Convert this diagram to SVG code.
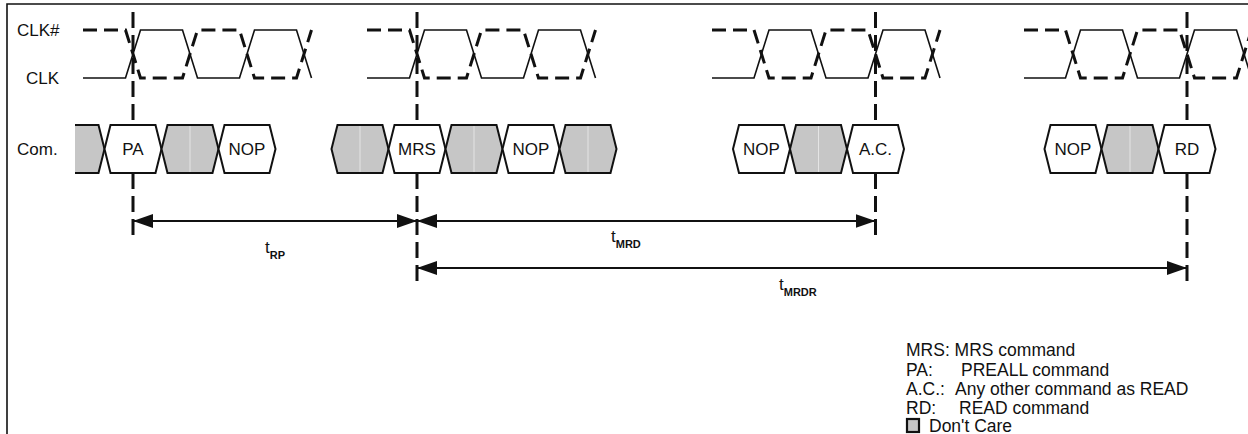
<svg xmlns="http://www.w3.org/2000/svg" width="1248" height="434" viewBox="0 0 1248 434">
<style>
text{font-family:"Liberation Sans",Arial,sans-serif;font-size:17px;fill:#111}
.mid{text-anchor:middle}
.sub{font-size:11px;font-weight:bold}
.lg{font-size:17.5px}
.clk{fill:none;stroke:#111;stroke-width:1.6}
.clkn{fill:none;stroke:#111;stroke-width:3;stroke-dasharray:14 7}
.vl{fill:none;stroke:#111;stroke-width:3;stroke-dasharray:16 7}
.cell{fill:#fff;stroke:#111;stroke-width:2;stroke-linejoin:miter}
.dc{fill:#c6c6c6;stroke:#111;stroke-width:2}
.seam{stroke:#e4e4e4;stroke-width:1}
.arr{stroke:#111;stroke-width:2;fill:none;marker-start:url(#ah);marker-end:url(#ah)}
.frame{stroke:#111;stroke-width:1.6;fill:none}
</style>
<defs>
<marker id="ah" viewBox="0 0 20 14" refX="20" refY="7" markerWidth="20" markerHeight="14" markerUnits="userSpaceOnUse" orient="auto-start-reverse"><path d="M0,0 L20,7 L0,14 z" fill="#111"/></marker>
<polygon id="hex" points="-22.5,-24 22.5,-24 28.5,0 22.5,24 -22.5,24 -28.5,0"/>
</defs>
<path class="frame" d="M7,434 V4 H1248"/>
<g id="labels">
<text x="17" y="36">CLK#</text>
<text x="26" y="84">CLK</text>
<text x="17" y="155">Com.</text>
</g>
<g id="markers-vertical">
<line class="vl" x1="133" y1="12" x2="133" y2="238"/>
<line class="vl" x1="417" y1="12" x2="417" y2="287"/>
<line class="vl" x1="875.5" y1="12" x2="875.5" y2="238"/>
<line class="vl" x1="1187" y1="12" x2="1187" y2="287"/>
</g>
<g id="clock1">
<path class="clk" d="M83,78 L125.5,78 L140.5,30 L182.5,30 L197.5,78 L239.5,78 L254.5,30 L296.5,30 L311.5,78"/>
<path class="clkn" d="M83,30 L125.5,30 L140.5,78 L182.5,78 L197.5,30 L239.5,30 L254.5,78 L296.5,78 L311.5,30"/>
</g>
<g id="clock2">
<path class="clk" d="M367,78 L409.5,78 L424.5,30 L466.5,30 L481.5,78 L523.5,78 L538.5,30 L580.5,30 L595.5,78"/>
<path class="clkn" d="M367,30 L409.5,30 L424.5,78 L466.5,78 L481.5,30 L523.5,30 L538.5,78 L580.5,78 L595.5,30"/>
</g>
<g id="clock3">
<path class="clk" d="M712,78 L754,78 L769,30 L811,30 L826,78 L868,78 L883,30 L925,30 L940,78"/>
<path class="clkn" d="M712,30 L754,30 L769,78 L811,78 L826,30 L868,30 L883,78 L925,78 L940,30"/>
</g>
<g id="clock4">
<path class="clk" d="M1024,78 L1065.5,78 L1080.5,30 L1122.5,30 L1137.5,78 L1179.5,78 L1194.5,30 L1236.5,30 L1251.5,78"/>
<path class="clkn" d="M1024,30 L1065.5,30 L1080.5,78 L1122.5,78 L1137.5,30 L1179.5,30 L1194.5,78 L1236.5,78 L1251.5,30"/>
</g>
<g id="bus1">
<polygon points="75,125 98.5,125 104.5,149 98.5,173 75,173" fill="#c6c6c6"/>
<path d="M75,125 L98.5,125 L104.5,149 L98.5,173 L75,173" fill="none" stroke="#111" stroke-width="2"/>
<g id="cmd-PA"><use href="#hex" class="cell" x="133" y="149"/><text class="mid" x="133" y="155">PA</text></g>
<g id="dc1"><use href="#hex" class="dc" x="190" y="149"/><line class="seam" x1="190" y1="126" x2="190" y2="172"/></g>
<g id="cmd-NOP1"><use href="#hex" class="cell" x="247" y="149"/><text class="mid" x="247" y="155">NOP</text></g>
</g>
<g id="bus2">
<g id="dc2"><use href="#hex" class="dc" x="360" y="149"/><line class="seam" x1="360" y1="126" x2="360" y2="172"/></g>
<g id="cmd-MRS"><use href="#hex" class="cell" x="417" y="149"/><text class="mid" x="417" y="155">MRS</text></g>
<g id="dc3"><use href="#hex" class="dc" x="474" y="149"/><line class="seam" x1="474" y1="126" x2="474" y2="172"/></g>
<g id="cmd-NOP2"><use href="#hex" class="cell" x="531" y="149"/><text class="mid" x="531" y="155">NOP</text></g>
<g id="dc4"><use href="#hex" class="dc" x="588" y="149"/><line class="seam" x1="588" y1="126" x2="588" y2="172"/></g>
</g>
<g id="bus3">
<g id="cmd-NOP3"><use href="#hex" class="cell" x="761.5" y="149"/><text class="mid" x="761.5" y="155">NOP</text></g>
<g id="dc5"><use href="#hex" class="dc" x="818.5" y="149"/><line class="seam" x1="818.5" y1="126" x2="818.5" y2="172"/></g>
<g id="cmd-AC"><use href="#hex" class="cell" x="875.5" y="149"/><text class="mid" x="875.5" y="155">A.C.</text></g>
</g>
<g id="bus4">
<g id="cmd-NOP4"><use href="#hex" class="cell" x="1073" y="149"/><text class="mid" x="1073" y="155">NOP</text></g>
<g id="dc6"><use href="#hex" class="dc" x="1130" y="149"/><line class="seam" x1="1130" y1="126" x2="1130" y2="172"/></g>
<g id="cmd-RD"><use href="#hex" class="cell" x="1187" y="149"/><text class="mid" x="1187" y="155">RD</text></g>
</g>
<g id="connectors">
<line class="arr" x1="133" y1="221" x2="417" y2="221"/>
<line class="arr" x1="417" y1="221" x2="875.5" y2="221"/>
<line class="arr" x1="417" y1="268" x2="1187" y2="268"/>
</g>
<g id="timing-labels">
<text x="265" y="253" font-size="16">t<tspan class="sub" dy="6">RP</tspan></text>
<text x="611" y="242" font-size="16">t<tspan class="sub" dy="6">MRD</tspan></text>
<text x="779" y="290" font-size="16">t<tspan class="sub" dy="6">MRDR</tspan></text>
</g>
<g id="legend">
<text class="lg" x="906" y="356">MRS: MRS command</text>
<text class="lg" x="906" y="376">PA:</text><text class="lg" x="961" y="376">PREALL command</text>
<text class="lg" x="906" y="395">A.C.:</text><text class="lg" x="955" y="395">Any other command as READ</text>
<text class="lg" x="906" y="414">RD:</text><text class="lg" x="959" y="414">READ command</text>
<rect x="907" y="419" width="12" height="13" fill="#c6c6c6" stroke="#111" stroke-width="2.2"/>
<text class="lg" x="929" y="432">Don't Care</text>
</g>
</svg>
